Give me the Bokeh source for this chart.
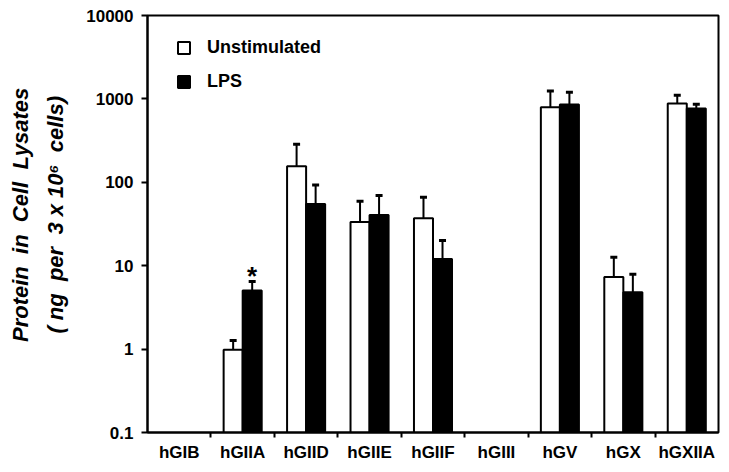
from bokeh.plotting import figure
from bokeh.models import (ColumnDataSource, FixedTicker, Whisker, TeeHead, Legend,
                          LegendItem, Range1d, LogAxis)
from bokeh.core.properties import value
from bokeh.embed import file_html
from bokeh.resources import INLINE

# ---- data ----
categories = ["hGIB", "hGIIA", "hGIID", "hGIIE", "hGIIF", "hGIII", "hGV", "hGX", "hGXIIA"]
unstimulated = [None, 0.98, 156, 33.4, 37, None, 794, 7.3, 879]
unstimulated_sem = [None, 0.29, 130, 26, 29, None, 448, 5.3, 225]
lps = [None, 5.03, 54.8, 40.5, 12.0, None, 855, 4.8, 766]
lps_sem = [None, 1.42, 38, 29, 8, None, 344, 3.1, 95]
significant = ["hGIIA"]
y_ticks = [0.1, 1, 10, 100, 1000, 10000]
y_tick_labels = ["0.1", "1", "10", "100", "1000", "10000"]

FONT = "Liberation Sans"
BAR_W = 0.3
NB = "\u00a0"


def series_source(vals, sems, offset):
    xs, ys, up = [], [], []
    for i, (v, s) in enumerate(zip(vals, sems)):
        if v is None:
            continue
        xs.append(i + offset)
        ys.append(v)
        up.append(v + s)
    return ColumnDataSource(dict(x=xs, top=ys, upper=up))


src_u = series_source(unstimulated, unstimulated_sem, 0.35)
src_l = series_source(lps, lps_sem, 0.65)

p = figure(width=721, height=464, output_backend="svg", toolbar_location=None,
           y_axis_type="log", x_range=Range1d(0, len(categories)),
           y_range=Range1d(y_ticks[0], y_ticks[-1]),
           min_border_left=147, min_border_right=3, min_border_top=15, min_border_bottom=31)
p.grid.visible = False
p.outline_line_color = "black"
p.outline_line_width = 2
p.background_fill_color = "white"

r_u = p.vbar(x="x", top="top", bottom=y_ticks[0], width=BAR_W, source=src_u,
             fill_color="white", line_color="black", line_width=2)
r_l = p.vbar(x="x", top="top", bottom=y_ticks[0], width=BAR_W, source=src_l,
             fill_color="black", line_color="black", line_width=2)

for src in (src_u, src_l):
    w = Whisker(source=src, base="x", upper="upper", lower="top",
                upper_head=TeeHead(size=7, line_width=3, line_color="black"),
                lower_head=None, line_width=2, line_color="black")
    p.add_layout(w)

# significance marker
sig_x = [categories.index(c) + 0.65 for c in significant]
sig_y = [lps[categories.index(c)] + lps_sem[categories.index(c)] for c in significant]
p.text(x=sig_x, y=sig_y, text=["*"] * len(sig_x), text_align="center",
       text_baseline="alphabetic", text_font=value(FONT), text_font_style="bold",
       text_font_size="26px", text_color="black", y_offset=-6)

# axes
xa = p.xaxis[0]
xa.ticker = FixedTicker(ticks=[i + 0.5 for i in range(len(categories))],
                        minor_ticks=list(range(1, len(categories))))
xa.major_label_overrides = {i + 0.5: c for i, c in enumerate(categories)}
xa.major_tick_out = 0
xa.major_tick_in = 0
xa.minor_tick_out = 5
xa.minor_tick_in = 0
xa.minor_tick_line_width = 2
xa.minor_tick_line_color = "black"
xa.axis_line_width = 2
xa.major_label_text_font = FONT
xa.major_label_text_font_style = "bold"
xa.major_label_text_font_size = "17px"
xa.major_label_text_color = "black"
xa.major_label_standoff = 5

ya = p.yaxis[0]
ya.ticker = FixedTicker(ticks=y_ticks)
ya.major_label_overrides = {t: l for t, l in zip(y_ticks, y_tick_labels)}
ya.major_tick_out = 6
ya.major_tick_in = 0
ya.major_tick_line_width = 2
ya.minor_tick_line_color = None
ya.axis_line_width = 2
ya.major_label_text_font = FONT
ya.major_label_text_font_style = "bold"
ya.major_label_text_font_size = "17px"
ya.major_label_text_color = "black"
ya.major_label_standoff = 8

title_line1 = NB * 3 + "Protein" + NB * 2 + "in" + NB * 2 + "Cell" + NB * 2 + "Lysates"
title_line2 = NB * 3 + "(" + NB + "ng" + NB * 2 + "per" + NB * 2 + "3" + NB + "x" + NB + "10\u2076" + NB * 2 + "cells)"

ya.axis_label = title_line2
ya.axis_label_standoff = 15
ya.axis_label_text_font = FONT
ya.axis_label_text_font_style = "bold italic"
ya.axis_label_text_font_size = "22px"
ya.axis_label_text_color = "black"

ya2 = LogAxis(ticker=FixedTicker(ticks=[]), axis_line_color=None,
              major_tick_line_color=None, minor_tick_line_color=None,
              major_label_text_font_size="0px",
              axis_label=title_line1, axis_label_standoff=8,
              axis_label_text_font=FONT, axis_label_text_font_style="bold italic",
              axis_label_text_font_size="22px", axis_label_text_color="black")
p.add_layout(ya2, "left")

legend = Legend(items=[LegendItem(label="Unstimulated", renderers=[r_u]),
                       LegendItem(label="LPS", renderers=[r_l])],
                location=(29, 340), orientation="vertical",
                glyph_width=15, glyph_height=15, label_height=15, spacing=13,
                label_standoff=16, padding=0, margin=0,
                border_line_color=None, background_fill_alpha=0,
                label_text_font=FONT, label_text_font_style="bold",
                label_text_font_size="18px", label_text_color="black")
p.add_layout(legend)

open("out.html", "w").write(file_html(p, INLINE))
